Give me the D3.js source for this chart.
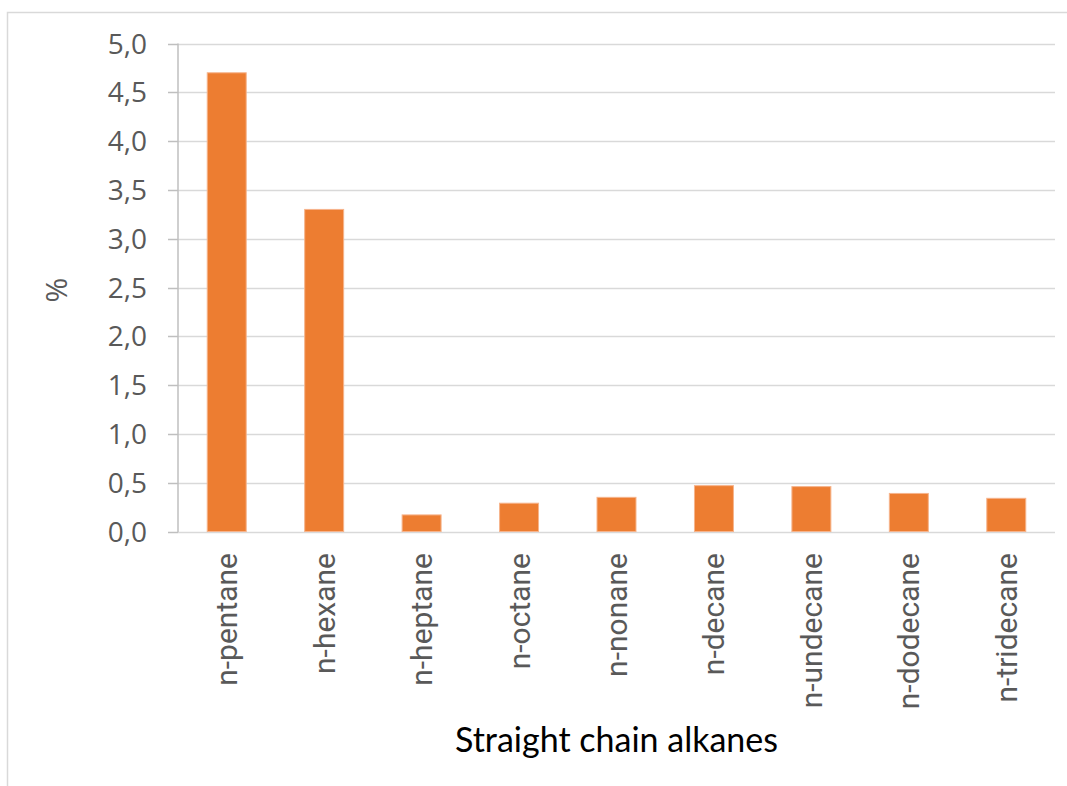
<!DOCTYPE html>
<html>
<head>
<meta charset="utf-8">
<script src="https://cdn.jsdelivr.net/npm/d3@7"></script>
<style>
  html, body { margin: 0; padding: 0; background: #fff; }
  svg { display: block; }
</style>
</head>
<body>
<svg id="chart" width="1067" height="786"></svg>
<script>
// Share of each straight-chain alkane (%)
const categories = ["n-pentane", "n-hexane", "n-heptane", "n-octane", "n-nonane",
                    "n-decane", "n-undecane", "n-dodecane", "n-tridecane"];
const values = [4.7, 3.3, 0.17, 0.29, 0.35, 0.47, 0.46, 0.39, 0.34];
const yTicks = [0, 0.5, 1, 1.5, 2, 2.5, 3, 3.5, 4, 4.5, 5];
const yTitle = "%";
const xTitle = "Straight chain alkanes";

const svg = d3.select("#chart");
const plot = { left: 178, right: 1055, top: 43.5, bottom: 531.5 };

// chart frame
svg.append("rect")
  .attr("x", 7.5).attr("y", 12.5)
  .attr("width", 1070).attr("height", 800)
  .attr("fill", "#fff").attr("stroke", "#d9d9d9").attr("stroke-width", 1.5);

const x = d3.scaleBand().domain(categories)
  .range([plot.left, plot.right]).paddingInner(0.6).paddingOuter(0.3);
const y = d3.scaleLinear().domain([0, 5]).range([plot.bottom, plot.top]);

// horizontal gridlines
svg.append("g").selectAll("line").data(yTicks).join("line")
  .attr("x1", plot.left).attr("x2", plot.right)
  .attr("y1", d => Math.round(y(d)) + 0.5).attr("y2", d => Math.round(y(d)) + 0.5)
  .attr("stroke", "#d9d9d9").attr("stroke-width", 1.5);

// y axis with tick labels
const yAxis = d3.axisLeft(y).tickValues(yTicks).tickSize(10).tickPadding(21)
  .tickFormat(d => d3.format(".1f")(d).replace(".", ","));
const gy = svg.append("g").attr("transform", `translate(${plot.left},0)`).call(yAxis);
gy.select(".domain").attr("stroke", "#bfbfbf").attr("stroke-width", 1.5)
  .attr("d", `M0,${plot.top}V${plot.bottom + 0.5}`);
gy.selectAll(".tick line").attr("stroke", "#bfbfbf").attr("stroke-width", 1.5);
gy.selectAll(".tick").attr("transform", d => `translate(0,${Math.round(y(d)) + 0.5})`);
gy.selectAll(".tick text")
  .attr("fill", "#595959")
  .style("font-family", "'Open Sans', sans-serif")
  .style("font-size", "28px")
  .attr("dy", "0.35em");

// bars
svg.append("g").selectAll("rect").data(values).join("rect")
  .attr("x", (d, i) => x(categories[i]))
  .attr("width", x.bandwidth())
  .attr("y", d => y(d))
  .attr("height", d => y(0) - y(d))
  .attr("fill", "#ed7d31")
  .attr("stroke", "#f6b48c").attr("stroke-width", 1);

// category labels, rotated
svg.append("g").selectAll("text").data(categories).join("text")
  .attr("transform", d => `translate(${x(d) + x.bandwidth() / 2},553) rotate(-90)`)
  .attr("text-anchor", "end")
  .attr("dy", "0.35em")
  .attr("fill", "#595959")
  .style("font-family", "Roboto, sans-serif")
  .style("font-size", "30px")
  .text(d => d);

// axis titles
svg.append("text")
  .attr("transform", "translate(56,290) rotate(-90)")
  .attr("text-anchor", "middle").attr("dy", "0.35em")
  .attr("fill", "#595959")
  .style("font-family", "'Open Sans', sans-serif")
  .style("font-size", "30px")
  .text(yTitle);

svg.append("text")
  .attr("x", (plot.left + plot.right) / 2).attr("y", 740)
  .attr("text-anchor", "middle").attr("dy", "0.35em")
  .attr("fill", "#000")
  .style("font-family", "Lato, sans-serif")
  .style("font-size", "34px")
  .text(xTitle);
</script>
</body>
</html>
